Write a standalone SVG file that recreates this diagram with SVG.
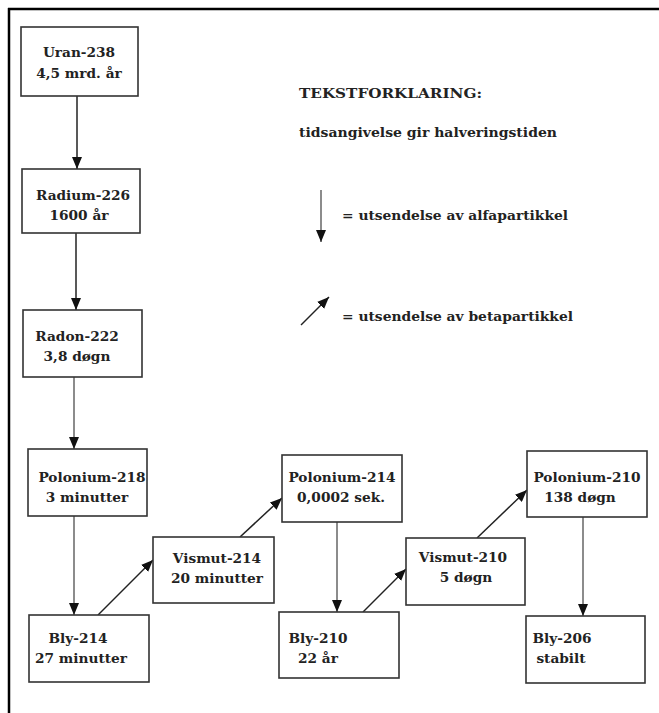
<svg xmlns="http://www.w3.org/2000/svg" width="659" height="713" viewBox="0 0 659 713">
<defs>
<marker id="ah" viewBox="0 0 12 10" refX="12" refY="5" markerWidth="12" markerHeight="10" markerUnits="userSpaceOnUse" orient="auto">
<path d="M0,0 L12,5 L0,10 z" fill="#111"/>
</marker>
<style>
.box{fill:#fff;stroke:#333;stroke-width:1.6}
.t{font-family:"DejaVu Serif","Liberation Serif",serif;font-weight:bold;font-size:13.7px;fill:#222}
.c{stroke:#222;stroke-width:1.5;fill:none;marker-end:url(#ah)}
.a{stroke:#666}
</style>
</defs>
<rect width="659" height="713" fill="#fff"/>
<g id="frame" stroke="#000" fill="none">
<line x1="9" y1="8" x2="9" y2="713" stroke-width="2.5"/>
<line x1="8" y1="9" x2="659" y2="9" stroke-width="2.5"/>
</g>
<g id="connectors">
<line class="c" x1="77" y1="96" x2="77" y2="169"/>
<line class="c" x1="76" y1="233" x2="76" y2="310"/>
<line class="c a" x1="74" y1="377" x2="74" y2="449"/>
<line class="c a" x1="74" y1="516" x2="74" y2="615"/>
<line class="c" x1="98" y1="615" x2="153" y2="560"/>
<line class="c" x1="240" y1="537" x2="282" y2="498"/>
<line class="c a" x1="337" y1="522" x2="337" y2="612"/>
<line class="c" x1="363" y1="612" x2="406" y2="569"/>
<line class="c" x1="477" y1="538" x2="527" y2="490"/>
<line class="c a" x1="583" y1="517" x2="583" y2="616"/>
</g>
<g id="uran238"><rect class="box" x="21" y="27" width="117" height="69"/><text class="t" x="79" y="57" text-anchor="middle">Uran-238</text><text class="t" x="79" y="78" text-anchor="middle">4,5 mrd. år</text></g>
<g id="radium226"><rect class="box" x="22" y="169" width="118" height="64"/><text class="t" x="83" y="200" text-anchor="middle">Radium-226</text><text class="t" x="79" y="220" text-anchor="middle">1600 år</text></g>
<g id="radon222"><rect class="box" x="23" y="310" width="119" height="67"/><text class="t" x="77" y="341" text-anchor="middle">Radon-222</text><text class="t" x="77" y="361" text-anchor="middle">3,8 døgn</text></g>
<g id="polonium218"><rect class="box" x="28" y="449" width="119" height="67"/><text class="t" x="92" y="482" text-anchor="middle">Polonium-218</text><text class="t" x="87" y="502" text-anchor="middle">3 minutter</text></g>
<g id="bly214"><rect class="box" x="29" y="615" width="120" height="67"/><text class="t" x="78" y="643" text-anchor="middle">Bly-214</text><text class="t" x="81" y="663" text-anchor="middle">27 minutter</text></g>
<g id="vismut214"><rect class="box" x="153" y="537" width="121" height="66"/><text class="t" x="217" y="563" text-anchor="middle">Vismut-214</text><text class="t" x="217" y="583" text-anchor="middle">20 minutter</text></g>
<g id="polonium214"><rect class="box" x="282" y="455" width="120" height="67"/><text class="t" x="342" y="482" text-anchor="middle">Polonium-214</text><text class="t" x="341" y="502" text-anchor="middle">0,0002 sek.</text></g>
<g id="bly210"><rect class="box" x="279" y="612" width="120" height="66"/><text class="t" x="318" y="643" text-anchor="middle">Bly-210</text><text class="t" x="318" y="663" text-anchor="middle">22 år</text></g>
<g id="vismut210"><rect class="box" x="406" y="538" width="119" height="67"/><text class="t" x="463" y="562" text-anchor="middle">Vismut-210</text><text class="t" x="466" y="582" text-anchor="middle">5 døgn</text></g>
<g id="polonium210"><rect class="box" x="527" y="451" width="120" height="66"/><text class="t" x="587" y="482" text-anchor="middle">Polonium-210</text><text class="t" x="580" y="502" text-anchor="middle">138 døgn</text></g>
<g id="bly206"><rect class="box" x="526" y="616" width="119" height="67"/><text class="t" x="562" y="643" text-anchor="middle">Bly-206</text><text class="t" x="561" y="663" text-anchor="middle">stabilt</text></g>
<g id="legend">
<text class="t" x="299" y="98" textLength="183" lengthAdjust="spacingAndGlyphs">TEKSTFORKLARING:</text>
<text class="t" x="299" y="137" textLength="258" lengthAdjust="spacingAndGlyphs">tidsangivelse gir halveringstiden</text>
<line class="c a" x1="321" y1="190" x2="321" y2="242"/>
<text class="t" x="342" y="220" textLength="226" lengthAdjust="spacingAndGlyphs">= utsendelse av alfapartikkel</text>
<line class="c" x1="301" y1="325" x2="329" y2="297"/>
<text class="t" x="342" y="321" textLength="231" lengthAdjust="spacingAndGlyphs">= utsendelse av betapartikkel</text>
</g>
</svg>
